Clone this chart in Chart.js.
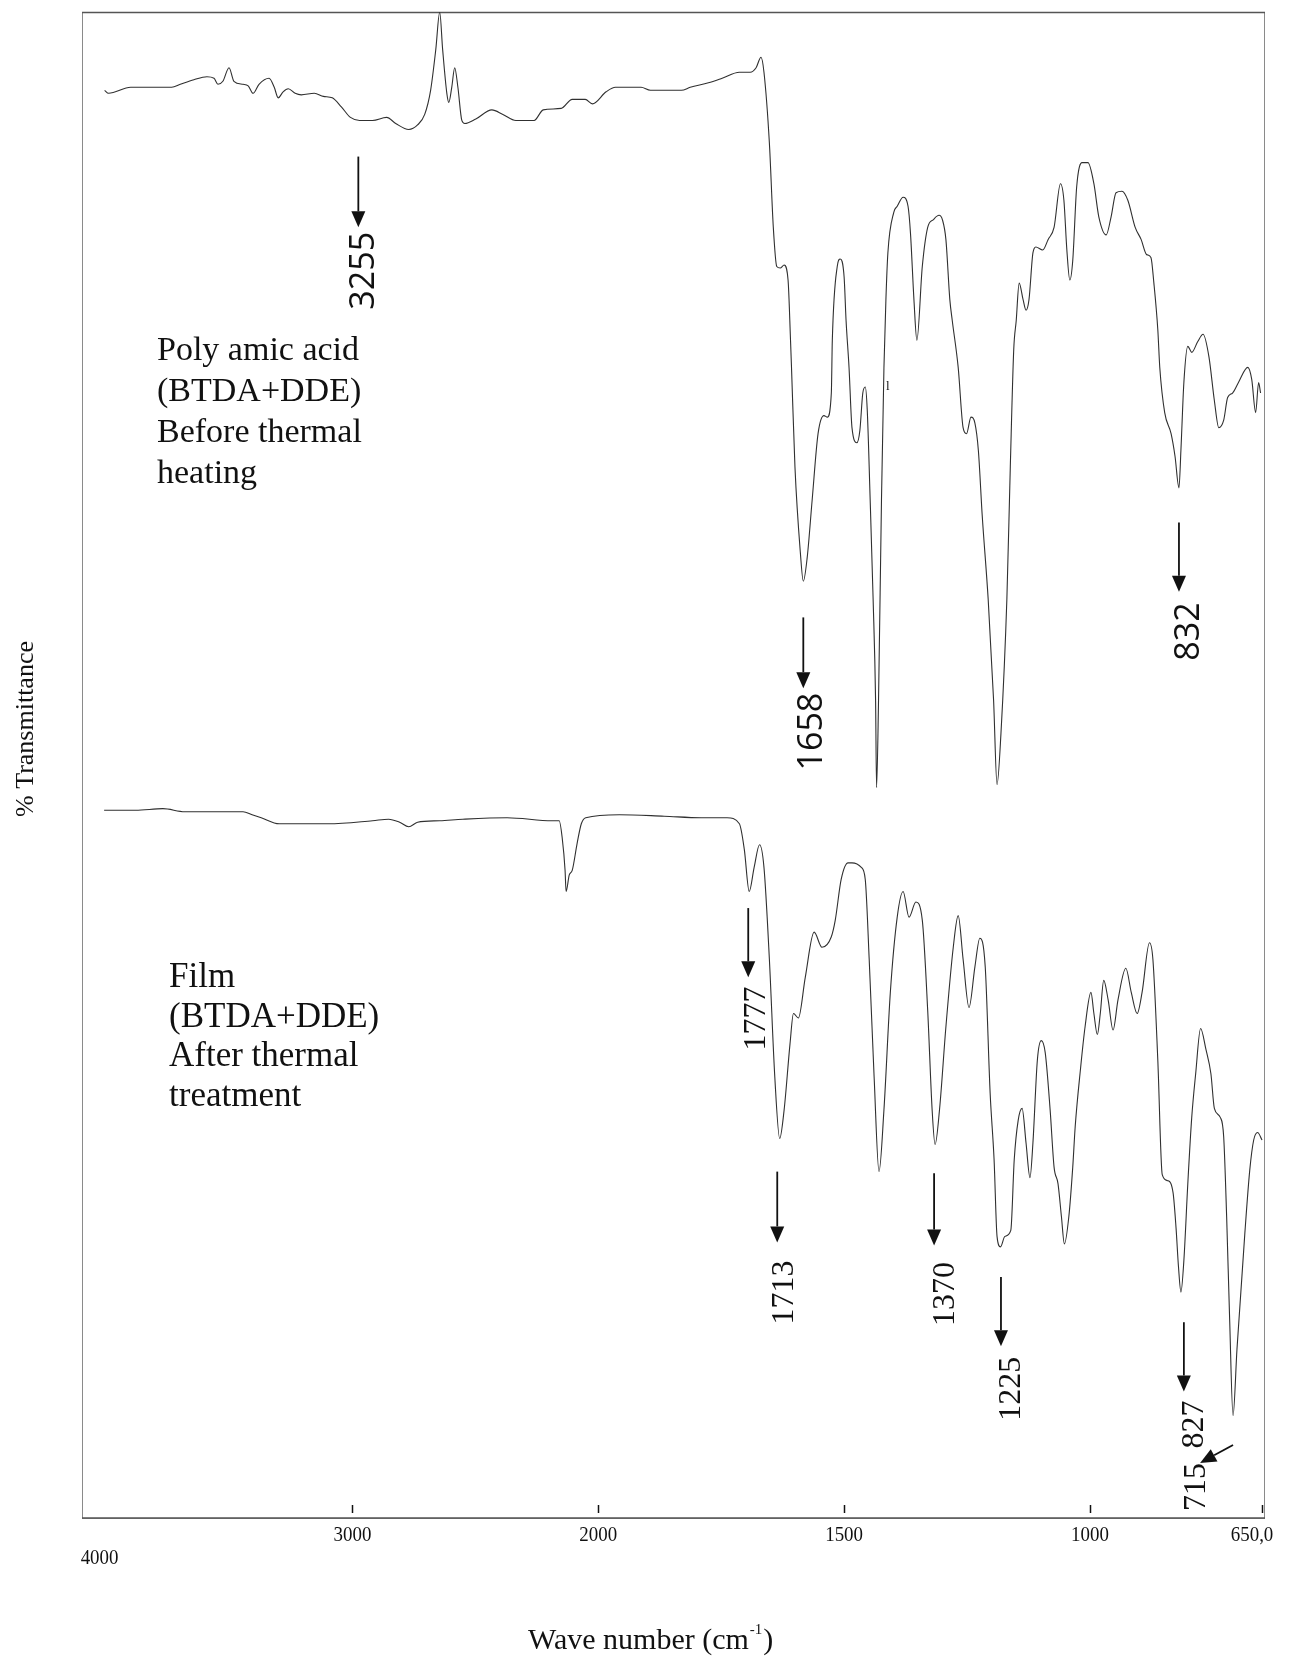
<!DOCTYPE html>
<html>
<head>
<meta charset="utf-8">
<title>FTIR spectra – BTDA+DDE</title>
<script src="https://cdn.jsdelivr.net/npm/chart.js@4"></script>
<style>
  html, body { margin: 0; padding: 0; background: #fff; }
  #wrap { position: relative; width: 1292px; height: 1657px; }
</style>
</head>
<body>
<div id="wrap"><canvas id="ftir"></canvas></div>
<script>
// ---- Spectrum data (wavenumber in cm-1, transmittance in plot units) ----
const WAVENUMBER_PAA = [4008,3992,3902,3735,3700,3645,3592,3563,3547,3527,
  3502,3482,3445,3424,3404,3380,3339,3318,3302,3282,
  3261,3233,3208,3155,3118,3082,3045,3008,2971,2918,
  2861,2824,2771,2735,2706,2682,2661,2645,2633,2616,
  2608,2596,2584,2571,2555,2543,2498,2433,2388,2335,
  2261,2224,2151,2106,2053,2024,1984,1965,1913,1894,
  1831,1813,1776,1748,1713,1691,1679,1669,1663,1652,
  1644,1637,1630,1622,1614,1609,1607,1600,1589,1583,
  1575,1565,1553,1541,1534,1526,1524,1514,1508,1500,
  1496,1490,1484,1474,1468,1462,1457,1453,1447,1441,
  1436,1434,1430,1424,1419,1415,1411,1399,1392,1380,
  1370,1365,1358,1352,1341,1330,1319,1307,1300,1293,
  1285,1280,1268,1258,1251,1242,1234,1227,1219,1207,
  1196,1189,1181,1169,1162,1155,1150,1144,1136,1130,
  1124,1116,1110,1096,1085,1073,1060,1053,1047,1041,
  1035,1027,1016,1004,992,982,967,957,947,935,
  923,908,896,885,876,870,862,858,848,835,
  827,819,815,809,801,793,781,770,758,747,
  738,728,720,710,698,679,671,663,657,653];

const TRANS_PAA = [94.8,94.6,95.0,95.0,95.2,95.5,95.7,95.6,95.2,95.4,
  96.3,95.4,95.2,95.1,94.6,95.2,95.6,95.0,94.3,94.7,
  94.9,94.6,94.5,94.6,94.4,94.3,93.7,93.0,92.8,92.8,
  93.0,92.6,92.2,92.5,93.2,94.8,97.5,100.0,97.5,94.6,
  94.0,95.0,96.3,95.0,92.8,92.6,92.9,93.5,93.2,92.8,
  92.8,93.5,93.6,94.2,94.2,93.9,94.7,95.0,95.0,94.8,
  94.8,95.0,95.3,95.6,96.0,96.0,96.3,97.0,96.0,91.3,
  85.7,83.1,83.0,83.2,82.2,78.2,76.4,69.8,64.1,62.2,
  63.8,67.6,72.0,73.2,73.1,74.7,78.2,83.1,83.6,82.4,
  79.5,76.4,72.4,71.4,72.2,74.7,75.1,73.6,67.6,61.0,
  54.3,48.5,54.3,67.6,76.4,80.9,84.0,86.7,87.1,87.7,
  87.1,85.3,80.9,78.2,83.1,85.7,86.2,86.5,86.2,84.9,
  80.9,79.5,76.4,72.4,72.0,73.1,72.7,70.9,66.5,61.0,
  54.3,48.7,52.1,61.0,69.8,77.6,79.5,82.0,80.9,80.2,
  80.9,84.0,84.4,84.2,84.9,85.7,88.6,87.5,84.2,82.2,
  83.5,88.4,90.0,90.0,88.6,86.4,85.2,86.4,88.0,88.1,
  87.5,85.7,84.9,83.9,83.7,82.0,78.9,76.4,73.4,72.0,
  70.5,68.4,70.9,75.4,77.8,77.4,78.1,78.6,77.1,74.2,
  72.4,72.9,74.4,74.7,75.4,76.4,75.6,73.4,75.4,74.7];

const WAVENUMBER_FILM = [4010,3882,3771,3682,3555,3445,3408,3371,3298,3245,
  3098,2918,2853,2808,2771,2735,2645,2551,2371,2188,
  2159,2147,2135,2131,2118,2106,2086,2069,2051,1957,
  1866,1791,1738,1713,1703,1693,1683,1672,1663,1652,
  1641,1631,1622,1610,1603,1593,1579,1561,1545,1526,
  1518,1506,1492,1484,1465,1457,1449,1439,1429,1419,
  1406,1392,1380,1368,1354,1341,1330,1321,1315,1306,
  1293,1278,1268,1258,1246,1234,1224,1213,1203,1195,
  1189,1182,1173,1161,1154,1146,1138,1130,1122,1116,
  1107,1099,1091,1081,1073,1065,1058,1052,1043,1035,
  1030,1019,1010,998,992,985,979,972,963,953,
  943,927,916,904,894,879,872,862,853,842,
  831,825,820,815,809,801,793,785,775,764,
  754,747,735,728,722,716,709,701,685,675,
  667,659,650];

const TRANS_FILM = [47.0,47.0,47.1,46.9,46.9,46.9,46.7,46.5,46.1,46.1,
  46.1,46.3,46.4,46.2,45.9,46.2,46.3,46.4,46.5,46.3,
  46.3,45.2,43.0,41.6,42.7,43.0,44.8,46.1,46.5,46.7,
  46.6,46.5,46.5,46.1,44.4,41.6,43.2,44.7,43.2,37.1,
  29.3,25.2,27.1,31.5,33.5,33.2,35.9,38.9,37.9,38.6,
  39.7,42.4,43.5,43.5,43.2,42.4,37.1,29.3,23.0,27.1,
  34.9,39.9,41.6,39.9,40.9,39.7,33.7,27.1,24.8,27.1,
  32.6,37.9,40.0,37.1,33.9,36.6,38.5,36.6,28.2,23.8,
  18.7,18.0,18.7,19.1,23.8,26.4,27.2,24.9,22.6,24.9,
  30.4,31.7,30.9,27.1,23.3,22.2,20.0,18.2,20.0,23.3,
  26.0,29.9,32.6,34.9,33.5,32.1,33.5,35.7,34.4,32.4,
  34.4,36.5,34.9,33.5,34.9,38.2,37.1,30.4,22.8,22.4,
  21.6,19.3,16.7,15.0,17.1,22.2,26.6,29.5,32.5,31.1,
  29.5,27.2,26.6,25.3,20.0,13.3,6.8,11.2,18.9,23.1,
  25.1,25.6,25.1];

// ---- Axis ticks ----
const TICK_VALUES = [4000, 3000, 2000, 1500, 1000, 650];
const TICK_LABELS = ['4000', '3000', '2000', '1500', '1000', '650,0'];

// ---- Sample captions ----
const CAPTION_PAA = ['Poly amic acid', '(BTDA+DDE)', 'Before thermal', 'heating'];
const CAPTION_FILM = ['Film', '(BTDA+DDE)', 'After thermal', 'treatment'];

// ---- Band assignments: arrow [x1, y1, x2, y2] and label anchor [x, y] in axis units ----
const BANDS_PAA = [
  { text: '3255', arrow: [2976, 90.4, 2976, 85.7], label: [2914, 85.4] },
  { text: '1658', arrow: [1583, 59.8, 1583, 55.1], label: [1545, 54.8] },
  { text: '832',  arrow: [819, 66.1, 819, 61.5],   label: [778, 60.8] }
];
const BANDS_FILM = [
  { text: '1777', arrow: [1695, 40.5, 1695, 35.9], label: [1661, 35.3] },
  { text: '1713', arrow: [1636, 23.0, 1636, 18.3], label: [1604, 17.1] },
  { text: '1370', arrow: [1317, 22.9, 1317, 18.1], label: [1276, 17.0] },
  { text: '1225', arrow: [1181, 16.0, 1181, 11.4], label: [1142, 10.7] },
  { text: '827',  arrow: [809, 13.0, 809, 8.4],    label: [770, 7.8] },
  { text: '715',  arrow: [709, 4.85, 776, 3.65],   label: [766, 3.65] }
];

// Wavenumber axis with the usual 2x expansion below 2000 cm-1
const AXIS_BREAK = 2000;
const AXIS_EXPANSION = 2;

class BrokenWavenumberScale extends Chart.LinearScale {
  static id = 'brokenWavenumber';
  static defaults = Chart.LinearScale.defaults;

  buildTicks() {
    return TICK_VALUES.map(v => ({ value: v }));
  }
  _span() {
    return (this.max - AXIS_BREAK) + AXIS_EXPANSION * (AXIS_BREAK - this.min);
  }
  getPixelForValue(value) {
    const hi = this.max - AXIS_BREAK;
    const d = value >= AXIS_BREAK ? (this.max - value)
                                  : hi + AXIS_EXPANSION * (AXIS_BREAK - value);
    return this.getPixelForDecimal(d / this._span());
  }
  getValueForPixel(pixel) {
    const d = this.getDecimalForPixel(pixel) * this._span();
    const hi = this.max - AXIS_BREAK;
    return d <= hi ? this.max - d : AXIS_BREAK - (d - hi) / AXIS_EXPANSION;
  }
}
Chart.register(BrokenWavenumberScale);

function toPoints(xs, ys) { return xs.map((x, i) => ({ x, y: ys[i] })); }

function drawArrow(ctx, x1, y1, x2, y2) {
  const ang = Math.atan2(y2 - y1, x2 - x1);
  const len = 16, half = 7;
  const bx = x2 - len * Math.cos(ang), by = y2 - len * Math.sin(ang);
  ctx.beginPath();
  ctx.moveTo(x1, y1);
  ctx.lineTo(bx, by);
  ctx.stroke();
  ctx.beginPath();
  ctx.moveTo(x2, y2);
  ctx.lineTo(bx + half * Math.sin(ang), by - half * Math.cos(ang));
  ctx.lineTo(bx - half * Math.sin(ang), by + half * Math.cos(ang));
  ctx.closePath();
  ctx.fill();
}

function drawVerticalText(ctx, text, x, y, align) {
  ctx.save();
  ctx.translate(x, y);
  ctx.rotate(-Math.PI / 2);
  ctx.textAlign = align;
  ctx.textBaseline = 'alphabetic';
  ctx.fillText(text, 0, 0);
  ctx.restore();
}

const SERIF = '"Liberation Serif", "Times New Roman", serif';

const figureDecor = {
  id: 'figureDecor',
  beforeDatasetsDraw(chart) {
    const { ctx, chartArea: a } = chart;
    ctx.save();
    // frame
    ctx.strokeStyle = '#8a8a8a';
    ctx.lineWidth = 1;
    ctx.strokeRect(a.left + 0.5, a.top + 0.5, a.right - a.left - 1, a.bottom - a.top);
    ctx.strokeStyle = '#555';
    ctx.lineWidth = 1.5;
    ctx.beginPath();
    ctx.moveTo(a.left, a.top + 0.5); ctx.lineTo(a.right, a.top + 0.5);
    ctx.moveTo(a.left, a.bottom); ctx.lineTo(a.right, a.bottom);
    ctx.stroke();
    ctx.restore();
  },
  afterDatasetsDraw(chart) {
    const { ctx, chartArea: a } = chart;
    const xs = chart.scales.x, ys = chart.scales.y;
    const X = v => xs.getPixelForValue(v), Y = v => ys.getPixelForValue(v);
    ctx.save();
    ctx.fillStyle = '#111';
    ctx.strokeStyle = '#111';

    // inner tick marks
    ctx.lineWidth = 1.5;
    TICK_VALUES.forEach(v => {
      if (v >= 4000) return;
      const px = Math.round(X(v)) + 0.5;
      ctx.beginPath();
      ctx.moveTo(px, a.bottom - 13);
      ctx.lineTo(px, a.bottom - 5);
      ctx.stroke();
    });

    // tick labels (narrow serif figures)
    ctx.font = '22px ' + SERIF;
    ctx.textAlign = 'center';
    ctx.textBaseline = 'alphabetic';
    TICK_VALUES.forEach((v, i) => {
      let px = X(v), py = a.bottom + 23;
      if (i === 0) { px -= 7; py += 23; }
      if (i === TICK_VALUES.length - 1) { px -= 10; }
      ctx.save();
      ctx.translate(px, py);
      ctx.scale(0.86, 1);
      ctx.fillText(TICK_LABELS[i], 0, 0);
      ctx.restore();
    });

    // axis titles
    ctx.font = '30px ' + SERIF;
    ctx.textAlign = 'left';
    const t1 = 'Wave number (cm';
    const tx = 528, ty = 1649;
    ctx.fillText(t1, tx, ty);
    const w = ctx.measureText(t1).width;
    ctx.font = '15px ' + SERIF;
    ctx.fillText('-1', tx + w + 1, ty - 15);
    const w2 = ctx.measureText('-1').width;
    ctx.font = '30px ' + SERIF;
    ctx.fillText(')', tx + w + w2 + 2, ty);

    ctx.font = '26px ' + SERIF;
    drawVerticalText(ctx, '% Transmittance', 33, 729, 'center');

    // sample captions
    ctx.textAlign = 'left';
    ctx.font = '34px ' + SERIF;
    CAPTION_PAA.forEach((s, i) => ctx.fillText(s, 157, 360 + i * 41));
    ctx.font = '35px ' + SERIF;
    CAPTION_FILM.forEach((s, i) => ctx.fillText(s, 169, 987 + i * 39.5));

    // band arrows and labels
    ctx.lineWidth = 1.8;
    const drawBands = (list, font) => {
      list.forEach(b => {
        const [x1, y1, x2, y2] = b.arrow;
        drawArrow(ctx, X(x1), Y(y1), X(x2), Y(y2));
        ctx.font = font;
        drawVerticalText(ctx, b.text, X(b.label[0]), Y(b.label[1]), 'right');
      });
    };
    drawBands(BANDS_PAA, '34px "Open Sans", "DejaVu Sans", sans-serif');
    drawBands(BANDS_FILM, '32px ' + SERIF);

    // small stray mark beside the 1400 cm-1 band
    ctx.font = '13px ' + SERIF;
    ctx.textAlign = 'center';
    ctx.fillText('l', X(1411), Y(74.9));
    ctx.restore();
  }
};

new Chart(document.getElementById('ftir'), {
  type: 'line',
  data: {
    datasets: [
      {
        label: 'Poly amic acid (BTDA+DDE) before thermal heating',
        data: toPoints(WAVENUMBER_PAA, TRANS_PAA),
        borderColor: '#303030',
        borderWidth: 1.1,
        pointRadius: 0,
        cubicInterpolationMode: 'monotone',
        fill: false
      },
      {
        label: 'Film (BTDA+DDE) after thermal treatment',
        data: toPoints(WAVENUMBER_FILM, TRANS_FILM),
        borderColor: '#303030',
        borderWidth: 1.1,
        pointRadius: 0,
        cubicInterpolationMode: 'monotone',
        fill: false
      }
    ]
  },
  options: {
    responsive: true,
    maintainAspectRatio: false,
    animation: false,
    devicePixelRatio: 1,
    layout: { padding: { left: 82, right: 27, top: 12, bottom: 0 } },
    plugins: { legend: { display: false }, tooltip: { enabled: false } },
    scales: {
      x: {
        type: 'brokenWavenumber',
        min: 644,
        max: 4100,
        grid: { display: false },
        border: { display: false },
        ticks: { display: false },
        afterFit(scale) { scale.height = 139; }
      },
      y: { type: 'linear', min: 0, max: 100, display: false }
    }
  },
  plugins: [figureDecor]
});
</script>
</body>
</html>
